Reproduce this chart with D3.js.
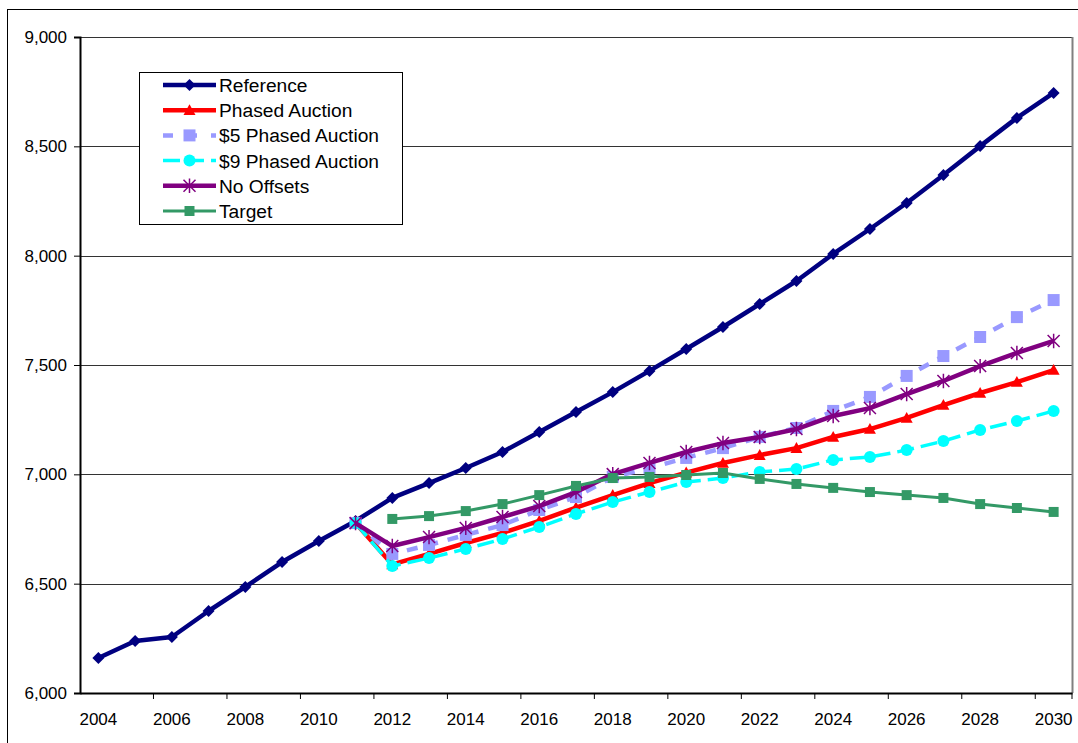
<!DOCTYPE html>
<html lang="en">
<head>
    <meta charset="UTF-8">
    <title>Emissions scenarios</title>
    <script src="https://d3js.org/d3.v7.min.js"></script>
    <style>
        body { margin: 0; background: #fff; }
        text { font-family: "Liberation Sans", Arial, sans-serif; fill: #000; }
    </style>
</head>
<body>
    <div id="my_dataviz"></div>

    <script>

        // categories
        const years = d3.range(2004, 2031);
        const yTicks = [6000, 6500, 7000, 7500, 8000, 8500, 9000];

        // series values (2004 - 2030), null where the series has no point
        const reference = [6160, 6238, 6256, 6375, 6485, 6599, 6695, 6787, 6892, 6960, 7029, 7102, 7194, 7285,
            7376, 7473, 7573, 7674, 7779, 7884, 8008, 8122, 8241, 8369, 8501, 8630, 8744];
        const phasedAuction = [null, null, null, null, null, null, null, 6777, 6588, 6636, 6686, 6732, 6787, 6848,
            6905, 6960, 7008, 7052, 7088, 7120, 7171, 7207, 7258, 7317, 7372, 7422, 7477];
        const phased5 = [null, null, null, null, null, null, null, 6777, 6636, 6677, 6723, 6768, 6837, 6896,
            6988, 7029, 7075, 7120, 7171, 7212, 7290, 7354, 7450, 7541, 7628, 7719, 7797];
        const phased9 = [null, null, null, null, null, null, null, 6777, 6581, 6617, 6659, 6704, 6759, 6819,
            6873, 6919, 6965, 6983, 7011, 7024, 7066, 7079, 7111, 7152, 7203, 7244, 7290];
        const noOffsets = [null, null, null, null, null, null, null, 6777, 6672, 6713, 6755, 6805, 6855, 6919,
            7001, 7052, 7102, 7143, 7171, 7207, 7267, 7303, 7367, 7427, 7495, 7555, 7610];
        const target = [null, null, null, null, null, null, null, null, 6796, 6809, 6832, 6864, 6905, 6947,
            6983, 6988, 6997, 7006, 6979, 6956, 6938, 6919, 6905, 6892, 6864, 6846, 6828];

        const seriesNames = ["Reference", "Phased Auction", "$5 Phased Auction", "$9 Phased Auction", "No Offsets", "Target"];
        const seriesValues = [reference, phasedAuction, phased5, phased9, noOffsets, target];

        // look of each series
        const styles = [
            {color: "#000080", width: 4.5, dash: null, marker: "diamond", size: 12},
            {color: "#FF0000", width: 4.5, dash: null, marker: "triangle", size: 12},
            {color: "#9999FF", width: 4.5, dash: "11,10", marker: "square", size: 12},
            {color: "#00FFFF", width: 3.5, dash: "17,7", marker: "circle", size: 12},
            {color: "#800080", width: 4.5, dash: null, marker: "star", size: 12},
            {color: "#339966", width: 3, dash: null, marker: "square", size: 10}
        ];

        const W = 1078, H = 743;
        const plot = {left: 80, top: 37, right: 1072, bottom: 693};

        const svg = d3.select("#my_dataviz")
            .append("svg")
            .attr("width", W)
            .attr("height", H);

        // chart area border (runs past the picture on the right and bottom)
        svg.append("rect")
            .attr("x", 7.5).attr("y", 9.5)
            .attr("width", 1200).attr("height", 900)
            .attr("fill", "#fff")
            .attr("stroke", "#000").attr("stroke-width", 1);

        const x = d3.scaleBand()
            .domain(years)
            .range([plot.left, plot.right])
            .padding(0);
        const cx = d => x(d) + x.bandwidth() / 2;

        const y = d3.scaleLinear()
            .domain([6000, 9000])
            .range([plot.bottom, plot.top]);

        // gridlines
        svg.append("g")
            .selectAll("line")
            .data(yTicks.slice(1))
            .join("line")
            .attr("x1", plot.left).attr("x2", plot.right)
            .attr("y1", d => Math.round(y(d)) + 0.5).attr("y2", d => Math.round(y(d)) + 0.5)
            .attr("stroke", "#333").attr("stroke-width", 1);

        // plot area right border
        svg.append("line")
            .attr("x1", plot.right + 0.5).attr("x2", plot.right + 0.5)
            .attr("y1", plot.top).attr("y2", plot.bottom)
            .attr("stroke", "#808080").attr("stroke-width", 2);

        // Y axis
        const yAxis = svg.append("g")
            .attr("transform", `translate(${plot.left},0)`)
            .call(d3.axisLeft(y).tickValues(yTicks).tickSize(6).tickPadding(7).tickFormat(d3.format(",")));
        yAxis.select(".domain").attr("stroke", "#000").attr("stroke-width", 2);
        yAxis.selectAll(".tick line").attr("stroke", "#000");
        yAxis.selectAll("text").style("font-size", "17px");

        // X axis
        const evenYears = years.filter(d => d % 2 === 0);
        const xAxis = svg.append("g")
            .attr("transform", `translate(0,${plot.bottom})`)
            .call(d3.axisBottom(x).tickValues(evenYears).tickSize(0).tickSizeOuter(0));
        xAxis.select(".domain").attr("stroke", "#000").attr("stroke-width", 2);
        xAxis.selectAll("text")
            .attr("dy", null)
            .attr("y", 32)
            .style("font-size", "17px");
        xAxis.selectAll(".tickmark")
            .data(evenYears.slice(1).concat([null]))
            .join("line")
            .attr("class", "tickmark")
            .attr("x1", d => d === null ? plot.right : x(d))
            .attr("x2", d => d === null ? plot.right : x(d))
            .attr("y1", 0).attr("y2", 6)
            .attr("stroke", "#000");

        // markers
        function markerPath(type, s) {
            const h = s / 2;
            if (type === "diamond") return `M0,${-h}L${h},0L0,${h}L${-h},0Z`;
            if (type === "triangle") return `M0,${-h}L${h},${h * 0.8}L${-h},${h * 0.8}Z`;
            if (type === "square") return `M${-h},${-h}H${h}V${h}H${-h}Z`;
            if (type === "circle") return d3.symbol(d3.symbolCircle, Math.PI * h * h)();
            // star: X plus vertical bar
            return `M${-h},${-h}L${h},${h}M${h},${-h}L${-h},${h}M0,${-h * 1.2}L0,${h * 1.2}`;
        }

        function drawMarker(g, st, px, py) {
            const m = g.append("path")
                .attr("transform", `translate(${px},${py})`)
                .attr("d", markerPath(st.marker, st.size));
            if (st.marker === "star") {
                m.attr("fill", "none").attr("stroke", st.color).attr("stroke-width", 1.5);
            } else {
                m.attr("fill", st.color).attr("stroke", "none");
            }
        }

        const line = d3.line()
            .defined(d => d.v !== null)
            .x(d => cx(d.year))
            .y(d => y(d.v));

        seriesValues.forEach((vals, i) => {
            const st = styles[i];
            const data = years.map((yr, j) => ({year: yr, v: vals[j]}));
            const g = svg.append("g");
            g.append("path")
                .datum(data)
                .attr("d", line)
                .attr("fill", "none")
                .attr("stroke", st.color)
                .attr("stroke-width", st.width)
                .attr("stroke-linejoin", "round")
                .attr("stroke-dasharray", st.dash);
            data.filter(d => d.v !== null).forEach(d => drawMarker(g, st, cx(d.year), y(d.v)));
        });

        // legend
        const legend = svg.append("g");
        legend.append("rect")
            .attr("x", 139.5).attr("y", 72.5)
            .attr("width", 263).attr("height", 152)
            .attr("fill", "#fff").attr("stroke", "#000");

        seriesNames.forEach((name, i) => {
            const st = styles[i];
            const ly = 85 + i * 25.2;
            legend.append("line")
                .attr("x1", 163).attr("x2", 216)
                .attr("y1", ly).attr("y2", ly)
                .attr("stroke", st.color)
                .attr("stroke-width", st.width)
                .attr("stroke-dasharray", st.dash ? (i === 2 ? "10,14" : "17,7") : null);
            drawMarker(legend, st, 189.5, ly);
            legend.append("text")
                .attr("x", 219).attr("y", ly)
                .attr("dy", "0.36em")
                .style("font-size", "19.2px")
                .text(name);
        });

    </script>
</body>
</html>
